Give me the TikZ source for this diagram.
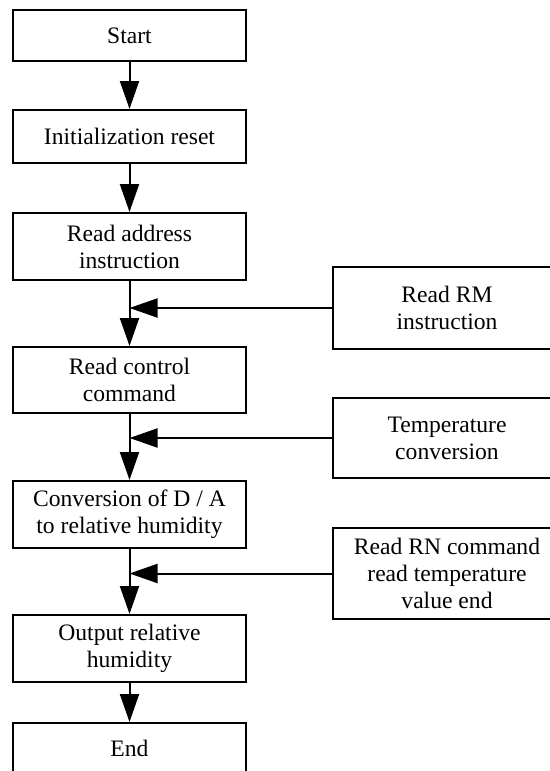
\documentclass[tikz,border=0pt]{standalone}
\usepackage{fontspec}
\setmainfont{Liberation Serif}
\usetikzlibrary{arrows.meta}
\begin{document}
\begin{tikzpicture}[x=0.5pt,y=-0.5pt,
  box/.style={draw,line width=1pt,rectangle,align=center,inner sep=0pt,
    font=\fontsize{11.8pt}{13.5pt}\selectfont},
  lbox/.style={box,minimum width=116.5pt},
  rbox/.style={box,minimum width=114pt},
  flow/.style={line width=1pt,-{Triangle[length=14pt,width=9.5pt]}}]
\useasboundingbox (0,0) rectangle (550,771);
\clip (0,0) rectangle (550,771);
\node[lbox,minimum height=25.5pt] (start) at (129.5,35.5) {Start};
\node[lbox,minimum height=26.5pt] (init) at (129.5,136.5) {Initialization reset};
\node[lbox,minimum height=33.5pt] (addr) at (129.5,246.5) {Read address\\instruction};
\node[lbox,minimum height=33pt] (ctrl) at (129.5,380) {Read control\\command};
\node[lbox,minimum height=33.5pt] (conv) at (129.5,514.5) {Conversion of D / A\\to relative humidity};
\node[lbox,minimum height=33.5pt] (out) at (129.5,648.5) {Output relative\\humidity};
\node[lbox,minimum height=25.5pt] (end) at (129.5,748.5) {End};
\node[rbox,minimum height=41pt] (rm) at (447,308) {Read RM\\instruction};
\node[rbox,minimum height=40pt] (temp) at (447,438) {Temperature\\conversion};
\node[rbox,minimum height=45.5pt] (rn) at (447,573.5) {Read RN command\\read temperature\\value end};
\coordinate (j1) at (129.5,308);
\coordinate (j2) at (129.5,438);
\coordinate (j3) at (129.5,573.5);
\draw[flow] (start) -- (init);
\draw[flow] (init) -- (addr);
\draw[flow] (addr) -- (ctrl);
\draw[flow] (ctrl) -- (conv);
\draw[flow] (conv) -- (out);
\draw[flow] (out) -- (end);
\draw[flow] (rm) -- (j1);
\draw[flow] (temp) -- (j2);
\draw[flow] (rn) -- (j3);
\end{tikzpicture}
\end{document}
